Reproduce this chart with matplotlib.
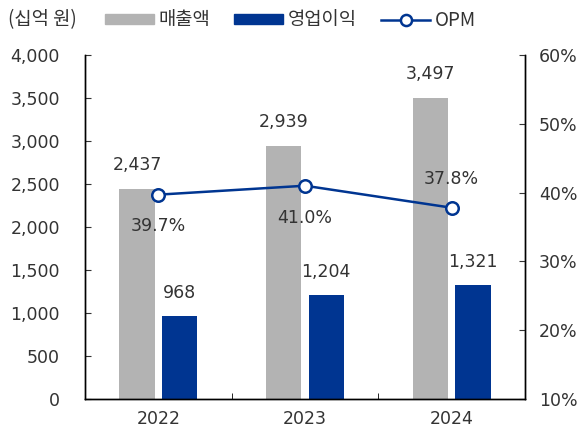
import numpy as np
import matplotlib

matplotlib.use("Agg")
import matplotlib.pyplot as plt
from matplotlib.lines import Line2D
from matplotlib.patches import Patch

plt.rcParams["font.family"] = ["DejaVu Sans", "Noto Sans CJK KR"]

years = ["2022", "2023", "2024"]
sales = [2437, 2939, 3497]
op_profit = [968, 1204, 1321]
opm = [39.7, 41.0, 37.8]
opm_labels = ["39.7%", "41.0%", "37.8%"]

GRAY = "#b3b3b3"
NAVY = "#003591"
TXT = "#333333"
FS = 12.5
KR = ["Noto Sans CJK KR", "DejaVu Sans"]

fig = plt.figure(figsize=(5.79, 4.28), dpi=100)
ax = fig.add_axes([85 / 579, 1 - 399 / 428, 440 / 579, 344 / 428])
ax2 = ax.twinx()

x = np.arange(len(years))
w = 0.24
gap = 0.05
ax.bar(x - (w + gap) / 2, sales, w, color=GRAY)
ax.bar(x + (w + gap) / 2, op_profit, w, color=NAVY)

for i in range(len(years)):
    ax.text(x[i] - (w + gap) / 2, sales[i] + 280, f"{sales[i]:,}", ha="center",
            va="center", fontsize=FS, color=TXT)
    ax.text(x[i] + (w + gap) / 2, op_profit[i] + 270, f"{op_profit[i]:,}", ha="center",
            va="center", fontsize=FS, color=TXT)

ax.set_xlim(-0.5, 2.5)
ax.set_ylim(0, 4000)
ax.set_yticks(np.arange(0, 4001, 500))
ax.set_yticklabels([f"{v:,}" for v in range(0, 4001, 500)])
ax.set_xticks(x)
ax.set_xticklabels(years)
ax.set_xticks([0.5, 1.5], minor=True)
ax.tick_params(axis="x", which="major", length=0, pad=8, labelsize=FS, colors=TXT)
ax.tick_params(axis="x", which="minor", direction="in", length=4)
ax.tick_params(axis="y", direction="in", length=4, pad=18, labelsize=FS, colors=TXT)

ax2.plot(x, opm, color=NAVY, lw=1.8, marker="o", ms=9, mfc="white", mec=NAVY, mew=1.8)
offsets = [-4.5, -4.7, 4.2]
for i in range(len(years)):
    ax2.text(x[i], opm[i] + offsets[i], opm_labels[i], ha="center",
             va="center", fontsize=FS, color=TXT)
ax2.set_ylim(10, 60)
ax2.set_yticks(np.arange(10, 61, 10))
ax2.set_yticklabels([f"{v}%" for v in range(10, 61, 10)])
ax2.tick_params(axis="y", direction="in", length=4, pad=10, labelsize=FS, colors=TXT)

for a in (ax, ax2):
    a.spines["top"].set_visible(False)
    for s in ("left", "right", "bottom"):
        a.spines[s].set_color("black")
        a.spines[s].set_linewidth(1)

fig.text(8 / 579, 1 - 20 / 428, "(십억 원)", fontsize=13.5, family=KR, color=TXT,
         va="center")
handles = [
    Patch(color=GRAY),
    Patch(color=NAVY),
    Line2D([], [], color=NAVY, lw=1.8, marker="o", ms=8, mfc="white", mec=NAVY, mew=1.8),
]
fig.legend(handles, ["매출액", "영업이익", "OPM"], loc="center left",
           bbox_to_anchor=(88 / 579, 1 - 20 / 428), ncol=3, frameon=False,
           prop={"family": KR, "size": 13.5}, handlelength=2.6, handleheight=0.45,
           handletextpad=0.25, columnspacing=1.3, labelcolor=TXT)

fig.savefig("out.png", dpi=100)
